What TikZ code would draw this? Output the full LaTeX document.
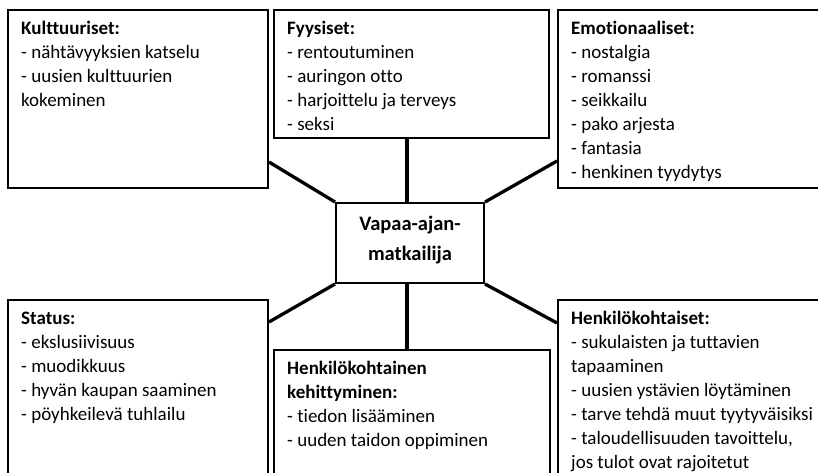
\documentclass[tikz,border=0pt]{standalone}
\usepackage{fontspec}
\setmainfont[Ligatures=NoCommon]{Carlito}
\begin{document}
\begin{tikzpicture}[x=1pt,y=-1pt,
  box/.style={draw, line width=2pt, inner sep=0pt, anchor=north west},
  body/.style={anchor=north west, inner sep=0pt, align=left,
    font=\fontsize{19}{24}\selectfont},
  link/.style={line width=3.3pt}]
\useasboundingbox (0,0) rectangle (818,472);
\fill[white] (0,0) rectangle (818,472);
\clip (0,0) rectangle (818,472);

% outer boxes (the right and bottom ones run past the page edge)
\node[box, minimum width=260pt, minimum height=178pt] (k1) at (7,9) {};
\node[box, minimum width=275pt, minimum height=128pt] (k2) at (273,9) {};
\node[box, minimum width=273pt, minimum height=178pt] (k3) at (557,9) {};
\node[box, minimum width=260pt, minimum height=200pt] (k4) at (7,299) {};
\node[box, minimum width=276pt, minimum height=150pt] (k5) at (273,349) {};
\node[box, minimum width=273pt, minimum height=200pt] (k6) at (557,299) {};

% central box
\node[box, minimum width=148pt, minimum height=80pt] (ctr) at (335,202) {};
\node[inner sep=0pt, align=center, font=\fontsize{20.5}{30}\selectfont\bfseries]
  (ctrtext) at ([yshift=3pt]ctr.center) {Vapaa-ajan-\\matkailija};

% box contents
\node[body] (t1) at ([xshift=14pt,yshift=-8pt]k1.north west)
  {\strut\textbf{Kulttuuriset:}\\- nähtävyyksien katselu\\- uusien kulttuurien\\kokeminen};
\node[body] (t2) at ([xshift=14pt,yshift=-8pt]k2.north west)
  {\strut\textbf{Fyysiset:}\\- rentoutuminen\\- auringon otto\\- harjoittelu ja terveys\\- seksi};
\node[body] (t3) at ([xshift=14pt,yshift=-8pt]k3.north west)
  {\strut\textbf{Emotionaaliset:}\\- nostalgia\\- romanssi\\- seikkailu\\- pako arjesta\\- fantasia\\- henkinen tyydytys};
\node[body] (t4) at ([xshift=14pt,yshift=-8pt]k4.north west)
  {\strut\textbf{Status:}\\- ekslusiivisuus\\- muodikkuus\\- hyvän kaupan saaminen\\- pöyhkeilevä tuhlailu};
\node[body] (t5) at ([xshift=14pt,yshift=-8pt]k5.north west)
  {\strut\textbf{Henkilökohtainen}\\\textbf{kehittyminen:}\\- tiedon lisääminen\\- uuden taidon oppiminen};
\node[body] (t6) at ([xshift=14pt,yshift=-8pt]k6.north west)
  {\strut\textbf{Henkilökohtaiset:}\\- sukulaisten ja tuttavien\\tapaaminen\\- uusien ystävien löytäminen\\- tarve tehdä muut tyytyväisiksi\\- taloudellisuuden tavoittelu,\\jos tulot ovat rajoitetut};

% connectors from the central box
\draw[link] (ctr.north west) -- ([yshift=27pt]k1.south east);
\draw[link] (ctr.north east) -- ([yshift=28pt]k3.south west);
\draw[link] (ctr.south west) -- ([yshift=-23pt]k4.north east);
\draw[link] (ctr.south east) -- ([yshift=-24pt]k6.north west);
\draw[link] ([xshift=-3pt]ctr.north) -- ([xshift=-3pt]ctr.north |- k2.south);
\draw[link] ([xshift=-3pt]ctr.south) -- ([xshift=-3pt]ctr.south |- k5.north);
\end{tikzpicture}
\end{document}
